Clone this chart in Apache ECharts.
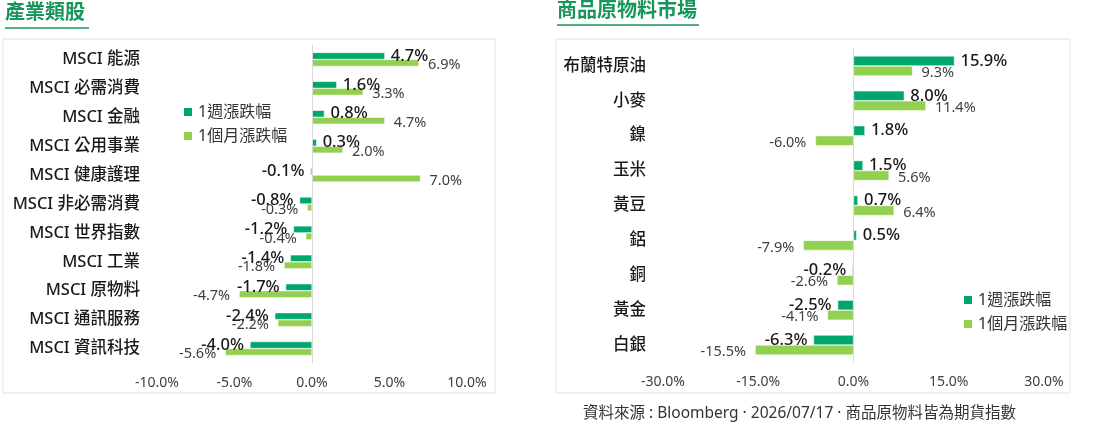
<!DOCTYPE html>
<html>
<head>
<meta charset="utf-8">
<script src="https://cdn.jsdelivr.net/npm/echarts@6/dist/echarts.min.js"></script>
<style>
html,body{margin:0;padding:0;background:#fff;}
#chart{width:1099px;height:427px;}
</style>
</head>
<body>
<div id="chart"></div>
<script>
"use strict";

const sectorNames = ["MSCI 能源","MSCI 必需消費","MSCI 金融","MSCI 公用事業","MSCI 健康護理","MSCI 非必需消費","MSCI 世界指數","MSCI 工業","MSCI 原物料","MSCI 通訊服務","MSCI 資訊科技"];
const sectorWeek = [4.7,1.6,0.8,0.3,-0.1,-0.8,-1.2,-1.4,-1.7,-2.4,-4.0];
const sectorMonth = [6.9,3.3,4.7,2.0,7.0,-0.3,-0.4,-1.8,-4.7,-2.2,-5.6];

const commNames = ["布蘭特原油","小麥","鎳","玉米","黃豆","鋁","銅","黃金","白銀"];
const commWeek = [15.9,8.0,1.8,1.5,0.7,0.5,-0.2,-2.5,-6.3];
const commMonth = [9.3,11.4,-6.0,5.6,6.4,-7.9,-2.6,-4.1,-15.5];

const seriesNames = ["1週漲跌幅","1個月漲跌幅"];
const titles = ["產業類股","商品原物料市場"];
const footnote = "資料來源 : Bloomberg · 2026/07/17 · 商品原物料皆為期貨指數";

const FONT = "'Noto Sans','Noto Sans CJK TC',sans-serif";
const DARK = "#00A76D";
const LIGHT = "#92D050";
const TITLE_GREEN = "#17955A";

const pct = (v)=> v.toFixed(1)+"%";

function items(arr){
	return arr.map(v=>({value:v,label:{position: v<0 ? "left" : "right"}}));
}

function barSeries(name,data,idx,width,isWeek){
	let s = {
		name:name,
		type:"bar",
		xAxisIndex:idx,
		yAxisIndex:idx,
		barWidth:width,
		barGap:"0%",
		data:items(data),
		itemStyle:{color:isWeek ? DARK : LIGHT,borderColor:"#fff",borderWidth:0.5},
		label:{
			show:true,
			formatter:(p)=>pct(p.value),
			fontFamily:FONT,
			fontSize:isWeek ? 16.5 : 14.5,
			fontWeight:isWeek ? 500 : "normal",
			color:isWeek ? "#1a1a1a" : "#404040",
			distance:isWeek ? 6 : 9,
			offset:isWeek ? [0,0] : [0,2]
		}
	};
	if(isWeek){
		s.markLine = {
			silent:true,
			symbol:"none",
			label:{show:false},
			lineStyle:{color:"#d9d9d9",type:"solid",width:1},
			data:[{xAxis:0}]
		};
	}
	return s;
}

function valueAxis(idx,lim,step){
	return {
		type:"value",
		gridIndex:idx,
		min:-lim,
		max:lim,
		interval:step,
		splitLine:{show:false},
		axisLine:{show:false},
		axisTick:{show:false},
		axisLabel:{formatter:pct,fontFamily:FONT,fontSize:14,color:"#404040",margin:13}
	};
}

function catAxis(idx,names,margin){
	return {
		type:"category",
		gridIndex:idx,
		data:names,
		inverse:true,
		axisLine:{show:false,onZero:false},
		axisTick:{show:false},
		axisLabel:{fontFamily:FONT,fontSize:16.5,fontWeight:500,color:"#1a1a1a",margin:margin}
	};
}

const myChart = echarts.init(document.getElementById("chart"));

const option = {
	animation:false,
	title:[
		{text:titles[0],left:5,top:3,padding:0,textStyle:{fontFamily:FONT,fontSize:20,fontWeight:"bold",color:TITLE_GREEN}},
		{text:titles[1],left:557,top:1,padding:0,textStyle:{fontFamily:FONT,fontSize:20,fontWeight:"bold",color:TITLE_GREEN}},
		{text:footnote,left:583,top:406,padding:0,textStyle:{fontFamily:FONT,fontSize:15.5,fontWeight:"normal",color:"#333"}}
	],
	legend:[
		{data:seriesNames,orient:"vertical",left:182,top:104,padding:0,itemWidth:10,itemHeight:10,itemGap:8,
			textStyle:{fontFamily:FONT,fontSize:16,color:"#333"},icon:"rect"},
		{data:seriesNames,orient:"vertical",left:962,top:292,padding:0,itemWidth:10,itemHeight:10,itemGap:8,
			textStyle:{fontFamily:FONT,fontSize:16,color:"#333"},icon:"rect"}
	],
	graphic:[
		{type:"rect",shape:{x:3,y:39,width:492,height:354},style:{fill:"none",stroke:"#e2e2e2",lineWidth:1}},
		{type:"rect",shape:{x:556,y:39,width:514,height:354},style:{fill:"none",stroke:"#e2e2e2",lineWidth:1}},
		{type:"line",shape:{x1:5,y1:28,x2:89,y2:28},style:{stroke:TITLE_GREEN,lineWidth:1.5}},
		{type:"line",shape:{x1:557,y1:25,x2:699,y2:25},style:{stroke:TITLE_GREEN,lineWidth:1.5}}
	],
	grid:[
		{left:157,right:632,top:45,height:318},
		{left:663,right:55,top:48.5,height:314}
	],
	xAxis:[valueAxis(0,10,5),valueAxis(1,30,15)],
	yAxis:[catAxis(0,sectorNames,17),catAxis(1,commNames,17)],
	series:[
		barSeries(seriesNames[0],sectorWeek,0,7,true),
		barSeries(seriesNames[1],sectorMonth,0,7,false),
		barSeries(seriesNames[0],commWeek,1,10,true),
		barSeries(seriesNames[1],commMonth,1,10,false)
	]
};

myChart.setOption(option);
</script>
</body>
</html>
